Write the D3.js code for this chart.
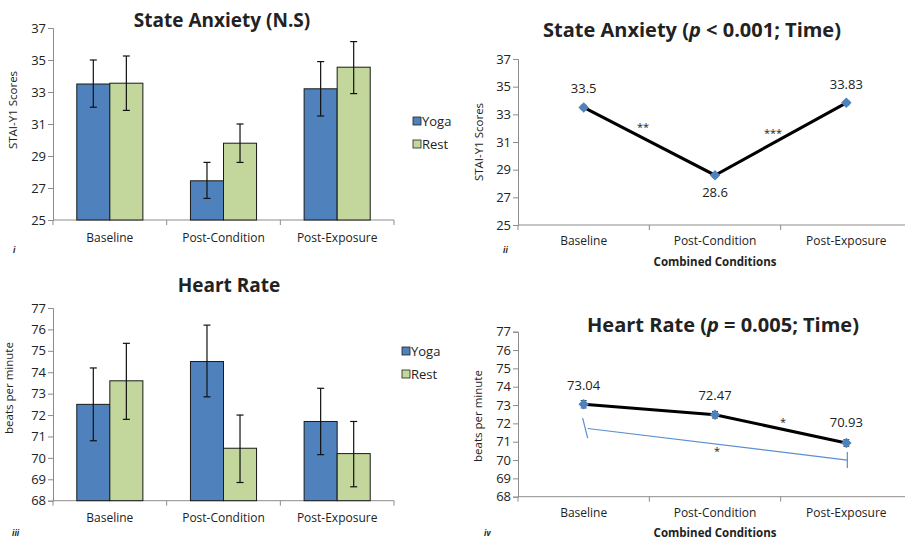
<!DOCTYPE html>
<html><head><meta charset="utf-8">
<script src="https://cdn.jsdelivr.net/npm/d3@7"></script>
<style>
html,body{margin:0;padding:0;background:#fff;}
svg{display:block;}
text{font-family:"Open Sans","DejaVu Sans",sans-serif;fill:#222;}
</style></head>
<body>
<script>
// ---------- DATA ----------
const categories = ["Baseline", "Post-Condition", "Post-Exposure"];
const groups = ["Yoga", "Rest"];

// Panel i: State Anxiety by group
const anxYoga = [33.5, 27.45, 33.2];
const anxYogaHi = [35.0, 28.6, 34.9];
const anxYogaLo = [32.05, 26.35, 31.5];
const anxRest = [33.55, 29.8, 34.55];
const anxRestHi = [35.25, 31.0, 36.15];
const anxRestLo = [31.85, 28.6, 32.9];
const anxTicks = [25, 27, 29, 31, 33, 35, 37];

// Panel ii: State Anxiety combined
const anxCombined = [33.5, 28.6, 33.83];
const anxCombinedErr = [0.15, 0.15, 0.15];
const anxSigLabels = ["**", "***"];

// Panel iii: Heart Rate by group
const hrYoga = [72.5, 74.5, 71.7];
const hrYogaHi = [74.2, 76.2, 73.25];
const hrYogaLo = [70.8, 72.85, 70.15];
const hrRest = [73.6, 70.45, 70.2];
const hrRestHi = [75.35, 72.0, 71.7];
const hrRestLo = [71.8, 68.85, 68.65];
const hrTicks = [68, 69, 70, 71, 72, 73, 74, 75, 76, 77];

// Panel iv: Heart Rate combined
const hrCombined = [73.04, 72.47, 70.93];
const hrCombinedErr = [0.2, 0.18, 0.18];
const hrBracket = [71.72, 70.0];   // Baseline -> Post-Exposure comparison line
const hrBracketTickTop = [72.29, 70.44];
const hrBracketTickBot = [71.2, 69.57];

const colors = {Yoga: "#4f81bd", Rest: "#c3d69b"};
const axisColor = "#8c8c8c";

const svg = d3.select("body").append("svg").attr("width", 905).attr("height", 549);

function yAxis(g, y, x0, ticks) {
  const ax = g.append("g").attr("transform", `translate(${x0},0)`)
    .call(d3.axisLeft(y).tickValues(ticks).tickSize(5).tickFormat(d3.format("d")));
  ax.select(".domain").attr("stroke", axisColor);
  ax.selectAll(".tick line").attr("stroke", axisColor);
  ax.selectAll(".tick text").attr("font-size", 13).attr("fill", "#222")
    .attr("font-family", "'Open Sans', sans-serif").attr("x", -7);
}
function xAxis(g, x, yPos, x0, x1, labelY) {
  g.append("line").attr("x1", x0).attr("x2", x1).attr("y1", yPos).attr("y2", yPos).attr("stroke", axisColor);
  const bounds = categories.map(c => x(c)).concat([x(categories[2]) + x.bandwidth()]);
  bounds.forEach(b => g.append("line").attr("x1", b).attr("x2", b).attr("y1", yPos).attr("y2", yPos + 5).attr("stroke", axisColor));
  categories.forEach(c => g.append("text").attr("x", x(c) + x.bandwidth() / 2).attr("y", labelY)
    .attr("text-anchor", "middle").attr("font-size", 12).text(c));
}
function yLabel(g, text, x, y) {
  g.append("text").attr("transform", `translate(${x},${y}) rotate(-90)`).attr("text-anchor", "middle")
    .attr("font-size", 11.5).text(text);
}
function roman(g, t, x, y) {
  g.append("text").attr("x", x).attr("y", y).attr("font-family", "'DejaVu Serif', serif")
    .attr("font-style", "italic").attr("font-weight", "bold").attr("font-size", 8).attr("fill", "#444").text(t);
}
function legend(g, x, ys) {
  groups.forEach((s, i) => {
    g.append("rect").attr("x", x).attr("y", ys[i] - 5).attr("width", 8).attr("height", 8)
      .attr("fill", colors[s]).attr("stroke", "#222").attr("stroke-width", 0.8);
    g.append("text").attr("x", x + 9).attr("y", ys[i] + 4).attr("font-size", 13).text(s);
  });
}

function barPanel(opts) {
  const g = svg.append("g");
  const y = d3.scaleLinear().domain(opts.domain).range(opts.yRange);
  const x = d3.scaleBand().domain(categories).range(opts.xRange).padding(0);
  const xs = d3.scaleBand().domain(groups).range([0, x.bandwidth()]).paddingInner(0).paddingOuter(0.72);
  yAxis(g, y, opts.xRange[0], opts.ticks);
  xAxis(g, x, opts.yRange[0], opts.xRange[0], opts.xRange[1], opts.labelY);
  const series = [
    {k: "Yoga", v: opts.yoga, hi: opts.yogaHi, lo: opts.yogaLo},
    {k: "Rest", v: opts.rest, hi: opts.restHi, lo: opts.restLo}
  ];
  series.forEach(s => {
    categories.forEach((c, i) => {
      const bx = x(c) + xs(s.k);
      g.append("rect").attr("x", bx).attr("y", y(s.v[i])).attr("width", xs.bandwidth())
        .attr("height", y(opts.domain[0]) - y(s.v[i])).attr("fill", colors[s.k])
        .attr("stroke", "#1a1a1a").attr("stroke-width", 1);
    });
  });
  series.forEach(s => {
    categories.forEach((c, i) => {
      const cx = x(c) + xs(s.k) + xs.bandwidth() / 2;
      g.append("line").attr("x1", cx).attr("x2", cx).attr("y1", y(s.hi[i])).attr("y2", y(s.lo[i])).attr("stroke", "#111").attr("stroke-width", 1.2);
      [s.hi[i], s.lo[i]].forEach(v => g.append("line").attr("x1", cx - 3.5).attr("x2", cx + 3.5)
        .attr("y1", y(v)).attr("y2", y(v)).attr("stroke", "#111").attr("stroke-width", 1.2));
    });
  });
  g.append("text").attr("x", opts.titleX).attr("y", opts.titleY).attr("text-anchor", "middle")
    .attr("font-size", 19).attr("font-weight", "bold").attr("font-family", "Lato, sans-serif").attr("fill", "#111").text(opts.title);
  yLabel(g, opts.yLabel, opts.yLabelX, opts.yLabelY);
  legend(g, opts.legendX, opts.legendY);
  roman(g, opts.roman, opts.romanX, opts.romanY);
}

function linePanel(opts) {
  const g = svg.append("g");
  const y = d3.scaleLinear().domain(opts.domain).range(opts.yRange);
  const x = d3.scaleBand().domain(categories).range(opts.xRange).padding(0);
  const cx = c => x(c) + x.bandwidth() / 2;
  yAxis(g, y, opts.xRange[0], opts.ticks);
  xAxis(g, x, opts.yRange[0], opts.xRange[0], opts.xRange[1], opts.labelY);
  const line = d3.line().x((d, i) => cx(categories[i])).y(d => y(d));
  g.append("path").datum(opts.values).attr("d", line).attr("fill", "none").attr("stroke", "#000").attr("stroke-width", 3);
  opts.values.forEach((v, i) => {
    const px = cx(categories[i]);
    const e = opts.err[i];
    g.append("line").attr("x1", px).attr("x2", px).attr("y1", y(v + e)).attr("y2", y(v - e)).attr("stroke", "#333").attr("stroke-width", 1);
    [v + e, v - e].forEach(vv => g.append("line").attr("x1", px - 3).attr("x2", px + 3).attr("y1", y(vv)).attr("y2", y(vv)).attr("stroke", "#333"));
    g.append("path").attr("d", d3.symbol(d3.symbolDiamond2 || d3.symbolDiamond, 70)())
      .attr("transform", `translate(${px},${y(v)})`).attr("fill", "#4f81bd");
    g.append("text").attr("x", px).attr("y", y(v) + opts.labelOffsets[i]).attr("text-anchor", "middle")
      .attr("font-size", 13).text(opts.values[i]);
  });
  opts.stars.forEach(s => g.append("text").attr("x", s.x).attr("y", s.y).attr("text-anchor", "middle")
    .attr("font-size", 11).text(s.t));
  const t = g.append("text").attr("x", opts.titleX).attr("y", opts.titleY).attr("text-anchor", "middle")
    .attr("font-size", 20).attr("font-weight", "bold").attr("font-family", "Lato, sans-serif").attr("fill", "#111");
  t.append("tspan").text(opts.title[0]);
  t.append("tspan").attr("font-style", "italic").text(opts.title[1]);
  t.append("tspan").text(opts.title[2]);
  yLabel(g, opts.yLabel, opts.yLabelX, opts.yLabelY);
  g.append("text").attr("x", cx(categories[1])).attr("y", opts.xTitleY)
    .attr("text-anchor", "middle").attr("font-size", 11.5).attr("font-weight", "bold").text("Combined Conditions");
  roman(g, opts.roman, opts.romanX, opts.romanY);
  return {g, x, y, cx};
}

barPanel({
  domain: [25, 37], yRange: [220, 28], xRange: [53, 394], ticks: anxTicks, labelY: 242,
  yoga: anxYoga, yogaHi: anxYogaHi, yogaLo: anxYogaLo, rest: anxRest, restHi: anxRestHi, restLo: anxRestLo,
  title: "State Anxiety (N.S)", titleX: 222, titleY: 27,
  yLabel: "STAI-Y1 Scores", yLabelX: 17, yLabelY: 110,
  legendX: 413, legendY: [122, 145], roman: "i", romanX: 13, romanY: 253
});

linePanel({
  domain: [25, 37], yRange: [225, 59], xRange: [518, 912], ticks: anxTicks, labelY: 245,
  values: anxCombined, err: anxCombinedErr, labelOffsets: [-14, 22, -14],
  stars: [{t: anxSigLabels[0], x: 643, y: 131}, {t: anxSigLabels[1], x: 773, y: 137}],
  title: ["State Anxiety (", "p", " < 0.001; Time)"], titleX: 692, titleY: 37,
  yLabel: "STAI-Y1 Scores", yLabelX: 483, yLabelY: 142, xTitleY: 266,
  roman: "ii", romanX: 503, romanY: 253
});

barPanel({
  domain: [68, 77], yRange: [500.7, 308], xRange: [53, 394], ticks: hrTicks, labelY: 522,
  yoga: hrYoga, yogaHi: hrYogaHi, yogaLo: hrYogaLo, rest: hrRest, restHi: hrRestHi, restLo: hrRestLo,
  title: "Heart Rate", titleX: 229, titleY: 292,
  yLabel: "beats per minute", yLabelX: 13, yLabelY: 388,
  legendX: 402, legendY: [352, 375], roman: "iii", romanX: 12, romanY: 536
});

const p4 = linePanel({
  domain: [68, 77], yRange: [496.7, 331.7], xRange: [518, 912], ticks: hrTicks, labelY: 517,
  values: hrCombined, err: hrCombinedErr, labelOffsets: [-14, -15, -16],
  stars: [{t: "*", x: 717, y: 455}, {t: "*", x: 783, y: 426}],
  title: ["Heart Rate (", "p", " = 0.005; Time)"], titleX: 723, titleY: 332,
  yLabel: "beats per minute", yLabelX: 482, yLabelY: 416, xTitleY: 537,
  roman: "iv", romanX: 484, romanY: 536
});
// bracket line comparing Baseline and Post-Exposure
{
  const {g, y, cx} = p4;
  const xa = cx(categories[0]) + 4, xb = cx(categories[2]) + 1;
  g.append("line").attr("x1", xa).attr("x2", xb).attr("y1", y(hrBracket[0])).attr("y2", y(hrBracket[1]))
    .attr("stroke", "#5b8fcf").attr("stroke-width", 1.2);
  g.append("line").attr("x1", xa - 5).attr("x2", xa).attr("y1", y(hrBracketTickTop[0])).attr("y2", y(hrBracketTickBot[0]))
    .attr("stroke", "#5b8fcf").attr("stroke-width", 1.2);
  g.append("line").attr("x1", xb).attr("x2", xb).attr("y1", y(hrBracketTickTop[1])).attr("y2", y(hrBracketTickBot[1]))
    .attr("stroke", "#5b8fcf").attr("stroke-width", 1.2);
}
</script>
</body></html>
